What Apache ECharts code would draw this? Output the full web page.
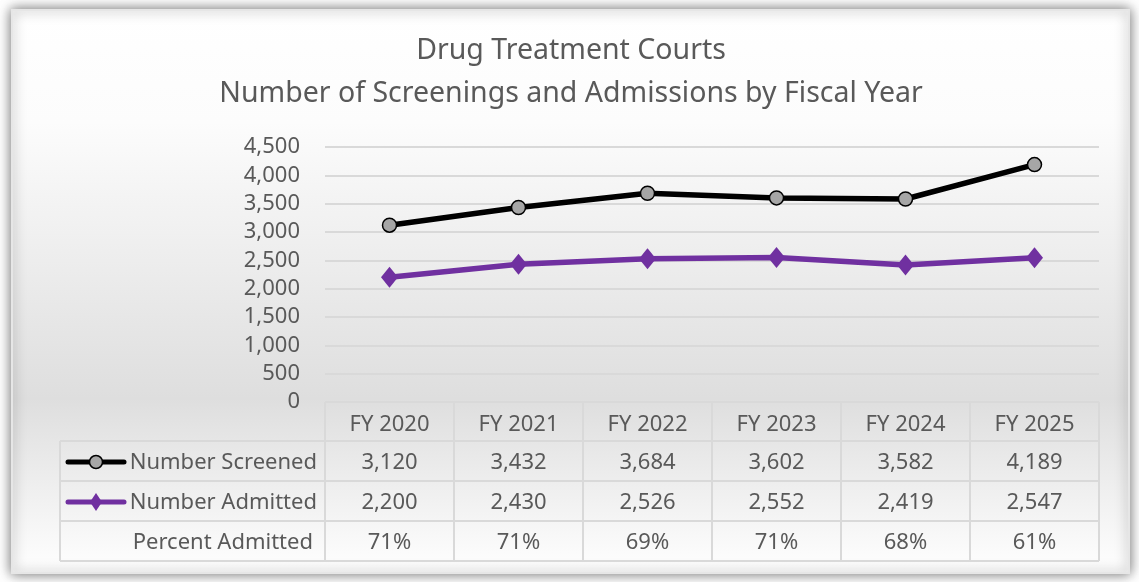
<!DOCTYPE html>
<html>
<head>
<meta charset="utf-8">
<script src="https://cdn.jsdelivr.net/npm/echarts@6/dist/echarts.min.js"></script>
<style>
html,body{margin:0;padding:0;background:#ffffff;}
#c{width:1139px;height:582px;}
</style>
</head>
<body>
<div id="c"></div>
<script>
var categories = ['FY 2020','FY 2021','FY 2022','FY 2023','FY 2024','FY 2025'];
var screened = [3120, 3432, 3684, 3602, 3582, 4189];
var admitted = [2200, 2430, 2526, 2552, 2419, 2547];
var percentAdmitted = ['71%','71%','69%','71%','68%','61%'];
var seriesNames = ['Number Screened','Number Admitted','Percent Admitted'];
var titleLines = ['Drug Treatment Courts','Number of Screenings and Admissions by Fiscal Year'];

var FONT = '"Noto Sans", "Open Sans", sans-serif';
var TXT = '#595959';
var GRIDC = '#d9d9d9';

var chart = echarts.init(document.getElementById('c'), null, {renderer:'canvas'});

function fmt(v){ return v.toLocaleString('en-US'); }

var option = {
  animation: false,
  backgroundColor: '#ffffff',
  grid: {left: 325, right: 40, top: 147, bottom: 180},
  xAxis: {
    type: 'category',
    data: categories,
    boundaryGap: true,
    axisLine: {show: false},
    axisTick: {show: false},
    axisLabel: {show: false},
    splitLine: {show: false}
  },
  yAxis: {
    type: 'value',
    min: 0, max: 4500, interval: 500,
    axisLine: {show: false},
    axisTick: {show: false},
    axisLabel: {color: TXT, fontFamily: FONT, fontSize: 22, margin: 25,
      formatter: function(v){ return fmt(v); }},
    splitLine: {lineStyle: {color: GRIDC, width: 2}}
  },
  series: [
    {
      name: seriesNames[0], type: 'line', data: screened, z: 5,
      symbol: 'circle', symbolSize: 14,
      lineStyle: {color: '#000000', width: 5.5},
      itemStyle: {color: '#a6a6a6', borderColor: '#000000', borderWidth: 1.5}
    },
    {
      name: seriesNames[1], type: 'line', data: admitted, z: 4,
      symbol: 'diamond', symbolSize: [17, 21],
      lineStyle: {color: '#7030a0', width: 5.5},
      itemStyle: {color: '#7030a0', borderWidth: 0}
    }
  ]
};
chart.setOption(option);

// Build frame, title and data table
var els = [];
els.push({
  type: 'rect', z: -10, silent: true,
  shape: {x: 12, y: 10, width: 1117, height: 563},
  style: {
    fill: new echarts.graphic.LinearGradient(0, 0, 0, 1, [
      {offset: 0, color: '#ffffff'},
      {offset: 0.2, color: '#fcfcfc'},
      {offset: 0.69, color: '#dedede'},
      {offset: 1, color: '#ffffff'}
    ]),
    stroke: '#e6e6e6', lineWidth: 2,
    shadowBlur: 12, shadowColor: 'rgba(0,0,0,0.55)', shadowOffsetX: 0, shadowOffsetY: 0
  }
});
els.push({type:'text', z: 10, style:{text: titleLines[0], x: 571, y: 51, align:'center', verticalAlign:'middle', fill: TXT, font: '28.5px ' + FONT}});
els.push({type:'text', z: 10, style:{text: titleLines[1], x: 571, y: 94, align:'center', verticalAlign:'middle', fill: TXT, font: '28.5px ' + FONT}});

var centers = categories.map(function(c, i){ return chart.convertToPixel({xAxisIndex: 0}, i); });
var colW = centers[1] - centers[0];
var xStart = centers[0] - colW / 2;
var xEnd = centers[centers.length - 1] + colW / 2;
var yTop = chart.convertToPixel({yAxisIndex: 0}, 0);
var rowH = 40;
var headerBottom = yTop + 39;
var rows = [headerBottom, headerBottom + rowH, headerBottom + 2 * rowH, headerBottom + 3 * rowH];
var labelLeft = 60;
var tableFont = '22px ' + FONT;

function line(x1, y1, x2, y2){
  els.push({type:'line', z: 3, silent: true, shape:{x1:x1,y1:y1,x2:x2,y2:y2}, style:{stroke: GRIDC, lineWidth: 2}});
}
line(xStart, yTop, xEnd, yTop);
rows.forEach(function(y){ line(labelLeft, y, xEnd, y); });
for (var i = 0; i <= categories.length; i++) {
  var x = xStart + i * colW;
  line(x, yTop, x, rows[3]);
}
line(labelLeft, rows[0], labelLeft, rows[3]);

categories.forEach(function(c, i){
  els.push({type:'text', z: 10, style:{text: c, x: centers[i], y: (yTop + rows[0]) / 2 + 3, align:'center', verticalAlign:'middle', fill: TXT, font: tableFont}});
});
var rowData = [screened.map(fmt), admitted.map(fmt), percentAdmitted];
rowData.forEach(function(arr, r){
  var yc = (rows[r] + rows[r + 1]) / 2 + 2;
  arr.forEach(function(v, i){
    els.push({type:'text', z: 10, style:{text: v, x: centers[i], y: yc, align:'center', verticalAlign:'middle', fill: TXT, font: tableFont}});
  });
  els.push({type:'text', z: 10, style:{text: seriesNames[r], x: r === 2 ? 313 : 317, y: yc, align:'right', verticalAlign:'middle', fill: TXT, font: tableFont}});
});
var k1 = (rows[0] + rows[1]) / 2 + 1;
var k2 = (rows[1] + rows[2]) / 2 + 1;
els.push({type:'line', z: 10, shape:{x1: 68, y1: k1, x2: 124, y2: k1}, style:{stroke:'#000', lineWidth: 5, lineCap:'round'}});
els.push({type:'circle', z: 11, shape:{cx: 96, cy: k1, r: 6.5}, style:{fill:'#a6a6a6', stroke:'#000', lineWidth: 1.5}});
els.push({type:'line', z: 10, shape:{x1: 68, y1: k2, x2: 124, y2: k2}, style:{stroke:'#7030a0', lineWidth: 5, lineCap:'round'}});
els.push({type:'polygon', z: 11, shape:{points: [[96, k2 - 9], [102, k2], [96, k2 + 9], [90, k2]]}, style:{fill:'#7030a0'}});

chart.setOption({graphic: els});
</script>
</body>
</html>
